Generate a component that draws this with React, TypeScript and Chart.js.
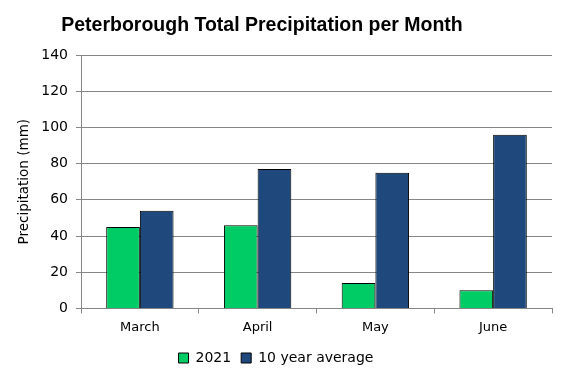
import React, { useEffect, useRef } from "react";
import { Chart, registerables } from "chart.js";

Chart.register(...registerables);

const categories = ["March", "April", "May", "June"];
const series2021 = [45, 46, 14, 10];
const seriesAverage = [54, 77, 75, 96];
const yTicks = [0, 20, 40, 60, 80, 100, 120, 140];
const chartTitle = "Peterborough Total Precipitation per Month";

const titlePlugin = {
  id: "leftTitle",
  afterDraw(chart: any) {
    const c = chart.ctx;
    c.save();
    c.font = "bold 19.5px 'Liberation Sans', sans-serif";
    c.fillStyle = "#000000";
    c.textAlign = "center";
    c.textBaseline = "alphabetic";
    c.fillText(chartTitle, 262, 31);
    c.restore();
  },
};

export default function App() {
  const ref = useRef<HTMLCanvasElement>(null);
  useEffect(() => {
    document.body.style.margin = "0";
    const ctx = ref.current!;
    const chart = new Chart(ctx, {
      type: "bar",
      data: {
        labels: categories,
        datasets: [
          {
            label: "2021",
            data: series2021,
            backgroundColor: "#00CC66",
            borderColor: "#000000",
            borderWidth: 1,
            categoryPercentage: 0.572,
            barPercentage: 1,
          },
          {
            label: "10 year average",
            data: seriesAverage,
            backgroundColor: "#1F497D",
            borderColor: "#000000",
            borderWidth: 1,
            categoryPercentage: 0.572,
            barPercentage: 1,
          },
        ],
      },
      plugins: [titlePlugin],
      options: {
        animation: false,
        responsive: false,
        layout: { padding: { left: 0, right: 15, top: 55, bottom: 3 } },
        plugins: {
          title: { display: false },
          legend: {
            position: "bottom",
            labels: {
              boxWidth: 10,
              boxHeight: 10,
              color: "#000000",
              font: { family: "'DejaVu Sans', sans-serif", size: 14 },
              padding: 10,
            },
          },
          tooltip: { enabled: false },
        },
        scales: {
          x: {
            grid: {
              display: true,
              drawOnChartArea: false,
              drawTicks: true,
              tickLength: 5,
              color: "#868686",
              offset: true,
            },
            border: { display: true, color: "#868686" },
            ticks: {
              color: "#000000",
              font: { family: "'DejaVu Sans', sans-serif", size: 13 },
              padding: 6,
            },
          },
          y: {
            min: 0,
            max: 140,
            afterBuildTicks: (scale: any) => {
              scale.ticks = yTicks.map((v) => ({ value: v }));
            },
            afterFit: (scale: any) => {
              scale.width = 81;
            },
            grid: {
              color: "#868686",
              tickLength: 5,
            },
            border: { display: true, color: "#868686" },
            ticks: {
              color: "#000000",
              font: { family: "'DejaVu Sans', sans-serif", size: 14 },
              padding: 8,
            },
            title: {
              display: true,
              text: "Precipitation (mm)",
              color: "#000000",
              font: { family: "'DejaVu Sans', sans-serif", size: 13.5 },
              padding: { top: 16, bottom: 0 },
            },
          },
        },
      },
    });
    return () => chart.destroy();
  }, []);
  return <canvas ref={ref} width={567} height={378} style={{ display: "block" }} />;
}
